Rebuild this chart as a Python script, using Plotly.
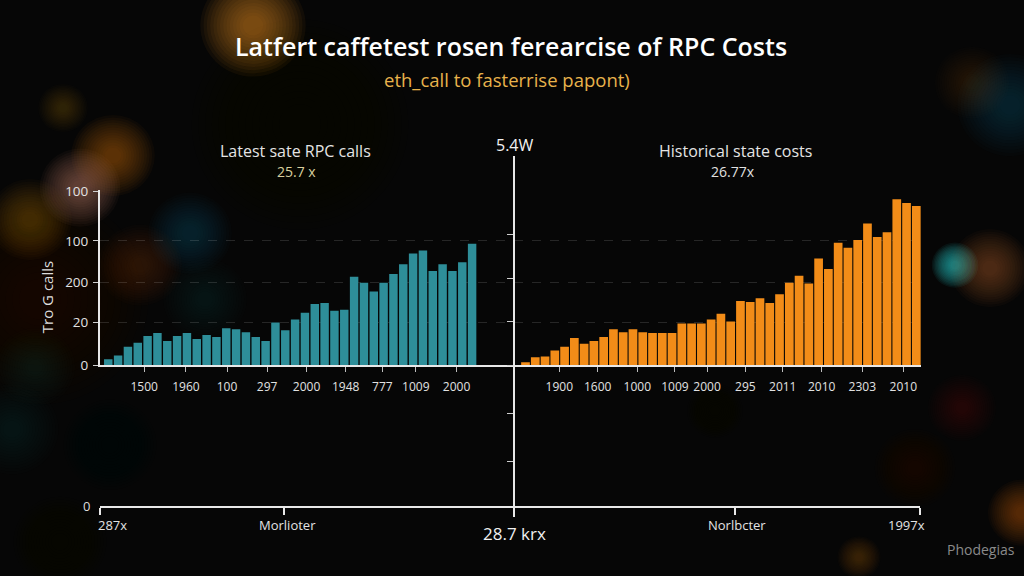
import plotly.graph_objects as go

# ---------------- data ----------------
left_values = [6, 10, 19, 23, 30, 33, 25, 30, 33, 27, 31, 29, 38, 37, 34, 29, 25,
               44, 36, 47, 54, 63, 64, 56, 57, 91, 85, 76, 85, 94, 104, 115, 118,
               97, 104, 97, 106, 125]
right_values = [3, 8, 9, 15, 19, 28, 22, 25, 29, 37, 34, 37, 34, 33, 33, 33, 43,
                43, 43, 47, 53, 45, 66, 65, 69, 64, 73, 85, 92, 84, 110, 99, 126,
                121, 129, 146, 132, 137, 171, 167, 164]
left_tick_labels = ["1500", "1960", "100", "297", "2000", "1948", "777", "1009", "2000"]
left_tick_pos = [4.65, 8.9, 13.08, 17.16, 21.16, 25.14, 28.88, 32.27, 36.42]
right_tick_labels = ["1900", "1600", "1000", "1009", "2000", "295", "2011", "2010", "2303", "2010"]
right_tick_pos = [4.46, 8.39, 12.44, 16.3, 19.58, 23.5, 27.33, 31.32, 35.47, 39.67]
y_tick_vals = [0, 44, 85, 128, 179]
y_tick_labels = ["0", "20", "200", "100", "100"]
bottom_labels = ["287x", "Morlioter", "Norlbcter", "1997x"]

W, H = 1024, 576
def px(x):
    return x / W
def py(y):
    return 1 - y / H

TEAL = "#2e8e99"
ORANGE = "#f28c18"
AXIS = "#e8e8e8"
TXT = "#e2e2e2"
FONT = "Open Sans"

fig = go.Figure()
fig.add_trace(go.Bar(x=list(range(1, len(left_values) + 1)), y=left_values,
                     marker=dict(color=TEAL, line=dict(width=0)),
                     xaxis="x", yaxis="y", hoverinfo="skip", width=0.86))
fig.add_trace(go.Bar(x=list(range(1, len(right_values) + 1)), y=right_values,
                     marker=dict(color=ORANGE, line=dict(width=0)),
                     xaxis="x2", yaxis="y2", hoverinfo="skip", width=0.89))
# helper trace so the bottom axis / centre line subplot exists
fig.add_trace(go.Scatter(x=[0.5], y=[0], mode="markers", marker=dict(opacity=0),
                         xaxis="x3", yaxis="y4", hoverinfo="skip", showlegend=False))

grid = dict(showgrid=True, gridcolor="rgba(255,255,255,0.13)", griddash="dash", gridwidth=1)

fig.update_layout(
    width=W, height=H, margin=dict(l=0, r=0, t=0, b=0),
    paper_bgcolor="#060606", plot_bgcolor="rgba(0,0,0,0)",
    showlegend=False, bargap=0.12,
    font=dict(family=FONT, color=TXT),
    xaxis=dict(domain=[px(100), px(514)], range=[0.16, 42.26], anchor="y",
               showline=True, linecolor=AXIS, linewidth=2, zeroline=False, showgrid=False,
               ticks="outside", ticklen=5, tickcolor="#bdbdbd", tickwidth=1,
               tickvals=left_tick_pos, ticktext=left_tick_labels,
               tickfont=dict(size=12, color=TXT, family=FONT), ticklabelstandoff=4),
    yaxis=dict(domain=[py(368), py(188)], range=[0, 180], anchor="x",
               showline=True, linecolor=AXIS, linewidth=2, zeroline=False,
               ticks="outside", ticklen=5, tickcolor="#cfcfcf",
               tickvals=y_tick_vals, ticktext=y_tick_labels,
               tickfont=dict(size=13.5, color=TXT, family=FONT), ticklabelstandoff=2, **grid),
    xaxis2=dict(domain=[px(514), px(921)], range=[-0.177, 41.48], anchor="y2",
                showline=True, linecolor=AXIS, linewidth=2, zeroline=False, showgrid=False,
                ticks="outside", ticklen=5, tickcolor="#bdbdbd", tickwidth=1,
                tickvals=right_tick_pos, ticktext=right_tick_labels,
                tickfont=dict(size=12, color=TXT, family=FONT), ticklabelstandoff=4),
    yaxis2=dict(domain=[py(368), py(188)], range=[0, 180], anchor="x2",
                showline=False, zeroline=False, showticklabels=False, ticks="",
                tickvals=y_tick_vals, **grid),
    xaxis3=dict(domain=[px(100), px(920)], range=[0, 1], anchor="free", position=py(514),
                showline=True, linecolor=AXIS, linewidth=2, zeroline=False, showgrid=False,
                ticks="outside", ticklen=7, tickwidth=2, tickcolor=AXIS,
                tickvals=[0, 0.2244, 0.5049, 0.7744, 1], showticklabels=False),
    yaxis4=dict(domain=[py(524), py(152)], range=[-156, 216], anchor="free", position=px(514),
                showline=True, linecolor=AXIS, linewidth=2, zeroline=False, showgrid=False,
                ticks="outside", ticklen=6, tickwidth=1, tickcolor="#cfcfcf",
                tickvals=[135, 89, 45, 0, -50, -99], showticklabels=False),
)

# ---------------- bokeh background (soft, layered discs) ----------------
blobs = [
    (253, 18, 34, (205, 125, 25), 0.7),
    (63, 103, 16, (150, 100, 30), 0.3),
    (113, 152, 27, (190, 115, 30), 0.55),
    (80, 185, 26, (205, 135, 115), 0.5),
    (30, 218, 27, (170, 100, 25), 0.42),
    (190, 232, 27, (30, 90, 100), 0.42),
    (140, 265, 27, (110, 55, 20), 0.45),
    (205, 300, 27, (25, 70, 80), 0.28),
    (12, 434, 30, (30, 80, 90), 0.32),
    (110, 450, 30, (20, 60, 70), 0.22),
    (35, 370, 26, (25, 65, 75), 0.28),
    (60, 550, 30, (60, 40, 20), 0.28),
    (972, 77, 24, (110, 70, 30), 0.3),
    (1010, 100, 34, (25, 80, 100), 0.38),
    (955, 265, 15, (40, 190, 185), 0.85),
    (990, 268, 26, (170, 110, 40), 0.45),
    (962, 412, 22, (90, 45, 20), 0.35),
    (915, 474, 26, (80, 40, 15), 0.32),
    (859, 566, 14, (150, 80, 20), 0.4),
    (1022, 520, 22, (200, 110, 20), 0.45),
    (715, 415, 18, (60, 35, 15), 0.22),
    (40, 300, 70, (90, 60, 25), 0.22),
    (300, 120, 70, (60, 45, 20), 0.18),
]
shapes = []
n = 14
for cx, cy, r, (cr, cg, cb), a in blobs:
    for k in range(n):
        rr = r * (1.55 - 1.25 * k / (n - 1))
        shapes.append(dict(type="circle", xref="paper", yref="paper", layer="below",
                           x0=px(cx - rr), x1=px(cx + rr), y0=py(cy + rr), y1=py(cy - rr),
                           fillcolor=f"rgba({cr},{cg},{cb},{a / n * 1.25:.3f})",
                           line=dict(width=0)))
fig.update_layout(shapes=shapes)

# ---------------- texts ----------------
def ann(text, x, y, size, color=TXT, weight=None, angle=0, xanchor="center"):
    f = dict(size=size, color=color, family=FONT)
    if weight:
        f["weight"] = weight
    fig.add_annotation(text=text, x=px(x), y=py(y), xref="paper", yref="paper",
                       showarrow=False, font=f, textangle=angle,
                       xanchor=xanchor, yanchor="middle")

ann("Latfert caffetest rosen ferearcise of RPC Costs", 511, 39, 25, "#ffffff", 600)
ann("eth_call to fasterrise papont)", 507, 74, 18.5, "#e8b34c")
ann("Latest sate RPC calls", 295, 147, 16, "#e4e4e4")
ann("25.7 x", 296, 168, 14, "#d8cf9e")
ann("Historical state costs", 735, 147, 16, "#e4e4e4")
ann("26.77x", 733, 168, 14, "#e0e0e0")
ann("5.4W", 515, 141, 16, "#f2f2f2")
ann("Tro G calls", 47, 298, 15, "#dddddd", angle=-90)
ann("0", 86, 513, 13, "#dddddd")
ann(bottom_labels[0], 112, 533, 13)
ann(bottom_labels[1], 287, 533, 13)
ann(bottom_labels[2], 737, 533, 13)
ann(bottom_labels[3], 906, 533, 13)
ann("28.7 krx", 514, 541, 17, "#f0f0f0")
ann("Phodegias", 981, 558, 14, "#8a8a8a")

fig.write_html("out.html")
